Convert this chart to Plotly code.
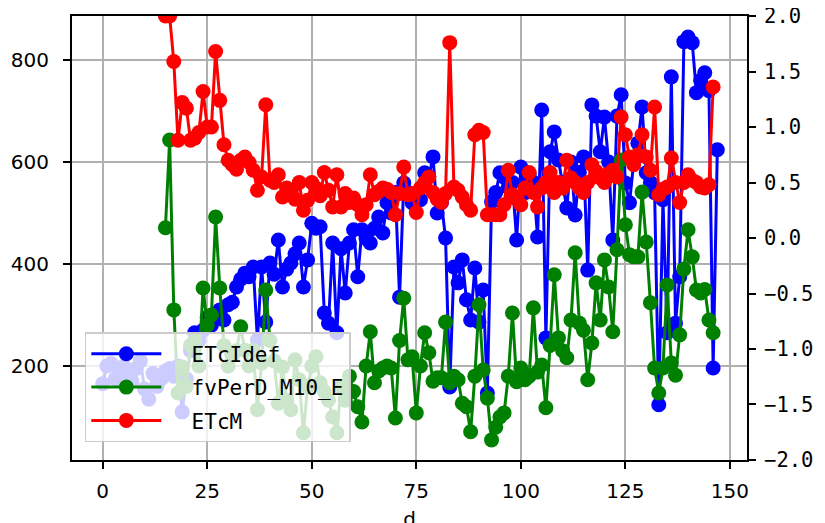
import numpy as np
import plotly.graph_objects as go

nan = np.nan

days = list(range(148))

etc_idef = [
    165, 200, 205, 175, 190, 200, 185, 170, 195, 210,
    155, 135, 185, 160, 175, 190, 195, 180, 200, 110,
    175, 230, 265, 250, 270, 295, 280, 300, 310, 290,
    320, 325, 355, 370, 382, 375, 394, 251, 394, 286,
    402, 380, 447, 355, 390, 402, 420, 441, 355, 408,
    480, 470, 473, 304, 284, 441, 265, 430, 343, 441,
    467, 375, 467, 450, 441, 470, 492, 461, 520, 500,
    540, 335, 559, 540, 520, 530, 526, 579, 571, 610,
    500, 520, 451, 159, 394, 363, 408, 330, 290, 392,
    286, 349, 147, 522, 540, 579, 570, 550, 560, 447,
    590, 540, 575, 560, 453, 702, 255, 620, 659, 604,
    560, 510, 600, 496, 580, 610, 388, 712, 690, 620,
    688, 600, 447, 690, 732, 559, 520, 600, 637, 708,
    579, 560, 540, 124, 526, 265, 767, 284, 375, 836,
    845, 834, 736, 760, 775, 740, 196, 624,
]

fv_per_d = [nan] * 15 + [
    471, 643, 310, 147, 198,
    160, 240, 250, 200, 353, 280, 300, 492, 353, 240,
    200, 220, 230, 277, 231, 200, 231, 114, 206, 349,
    250, 210, 127, 198, 133, 114, 212, 173, 69, 160,
    200, 218, 167, 150, 133, 100, 69, 159, 133, 180,
    150, 120, 90, 200, 267, 167, 190, 196, 200, 196,
    98, 250, 333, 212, 218, 108, 200, 265, 226, 170,
    177, 177, 286, 167, 180, 173, 127, 120, 71, 180,
    320, 192, 137, 55, 80, 100, 108, 180, 304, 169,
    196, 173, 180, 314, 188, 202, 118, 240, 379, 255,
    230, 216, 290, 422, 284, 270, 173, 245, 363, 290,
    408, 355, 267, 428, 604, 477, 418, 414, 414, 541,
    443, 324, 196, 147, 196, 359, 206, 182, 261, 390,
    467, 414, 349, 343, 350, 290, 265, nan,
]

etc_m = [nan] * 15 + [
    2.0, 2.0, 1.59, 0.88, 1.22,
    1.17, 0.88, 0.90, 0.95, 1.32, 1.00, 1.00, 1.68, 1.24, 0.84,
    0.70, 0.66, 0.62, 0.70, 0.73, 0.68, 0.61, 0.43, 0.55, 1.20,
    0.52, 0.50, 0.57, 0.37, 0.45, 0.41, 0.35, 0.50, 0.25, 0.34,
    0.50, 0.45, 0.38, 0.59, 0.43, 0.28, 0.57, 0.28, 0.40, 0.32,
    0.36, 0.30, 0.21, 0.30, 0.57, 0.39, 0.42, 0.45, 0.44, 0.41,
    0.21, 0.40, 0.64, 0.39, 0.40, 0.23, 0.45, 0.50, 0.55, 0.41,
    0.35, 0.32, 0.40, 1.76, 0.46, 0.43, 0.37, 0.30, 0.25, 0.93,
    0.97, 0.95, 0.21, 0.21, 0.21, 0.21, 0.30, 0.61, 0.39, 0.35,
    0.30, 0.45, 0.59, 0.41, 0.28, 0.45, 0.50, 0.59, 0.41, 0.50,
    0.45, 0.70, 0.54, 0.50, 0.45, 0.41, 0.50, 0.66, 0.60, 0.54,
    0.50, 0.58, 0.61, 0.55, 1.09, 0.93, 0.73, 0.66, 0.75, 0.93,
    0.73, 0.61, 1.18, 0.39, 0.44, 0.46, 0.72, 0.50, 0.32, 0.50,
    0.57, 0.52, 0.50, 0.46, 0.45, 0.48, 1.36, nan,
]

right_ticks = [-2, -1.5, -1, -0.5, 0, 0.5, 1, 1.5, 2]

mono = "DejaVu Sans Mono"
sans = "DejaVu Sans"
pad = "\u00a0\u00a0"  # pushes legend text right of the symbol, as in the reference

fig = go.Figure()

fig.add_trace(go.Scatter(
    x=days, y=etc_idef, mode="lines+markers", name=pad + "ETcIdef",
    line=dict(color="blue", width=3), marker=dict(color="blue", size=15),
    legendgroup="a",
))
fig.add_trace(go.Scatter(
    x=days, y=fv_per_d, mode="lines+markers", name=pad + "fvPerD_M10_E",
    line=dict(color="green", width=3), marker=dict(color="green", size=15),
    legendgroup="b",
))
fig.add_trace(go.Scatter(
    x=days, y=etc_m, mode="lines+markers", name=pad + "ETcM", yaxis="y2",
    line=dict(color="red", width=3), marker=dict(color="red", size=15),
    legendgroup="c",
))

# page body adds an 8px offset, so margins are shifted to compensate
fig.update_layout(
    width=825, height=523,
    margin=dict(l=64, r=86, t=8, b=71),
    paper_bgcolor="white", plot_bgcolor="white",
    xaxis=dict(
        range=[-7.35, 154.1], tickvals=[0, 25, 50, 75, 100, 125, 150],
        showgrid=True, gridcolor="#b0b0b0", gridwidth=1.6,
        showline=True, linecolor="black", linewidth=2, mirror=True,
        ticks="outside", ticklen=7, tickwidth=1.5, tickcolor="black",
        ticklabelstandoff=5,
        tickfont=dict(family=sans, size=20, color="black"),
        zeroline=False, automargin=False,
        title=dict(text="d", font=dict(family=sans, size=20, color="black"), standoff=12),
    ),
    yaxis=dict(
        range=[15.6, 886.3], tickvals=[200, 400, 600, 800],
        showgrid=True, gridcolor="#b0b0b0", gridwidth=1.6,
        showline=True, linecolor="black", linewidth=2,
        ticks="outside", ticklen=7, tickwidth=1.5, tickcolor="black",
        ticklabelstandoff=10,
        tickfont=dict(family=sans, size=20, color="black"),
        zeroline=False, automargin=False,
    ),
    yaxis2=dict(
        range=[-2.0001, 2.0001], overlaying="y", side="right",
        tickmode="array", tickvals=right_ticks,
        ticktext=[f"{v:.1f}".replace("-", "\u2212") for v in right_ticks],
        showgrid=False, showline=True, linecolor="black", linewidth=2,
        ticks="outside", ticklen=7, tickwidth=1.5, tickcolor="black",
        ticklabelstandoff=4, ticklabeloverflow="allow",
        tickfont=dict(family=mono, size=20.5, color="black"),
        zeroline=False, automargin=False,
    ),
    legend=dict(
        x=0.019, y=0.288, xanchor="left", yanchor="top",
        bgcolor="rgba(255,255,255,0.8)", bordercolor="#cccccc", borderwidth=1.5,
        font=dict(family=mono, size=21, color="black"),
        itemwidth=70, tracegroupgap=3,
    ),
    showlegend=True,
)

fig.write_html("out.html")
